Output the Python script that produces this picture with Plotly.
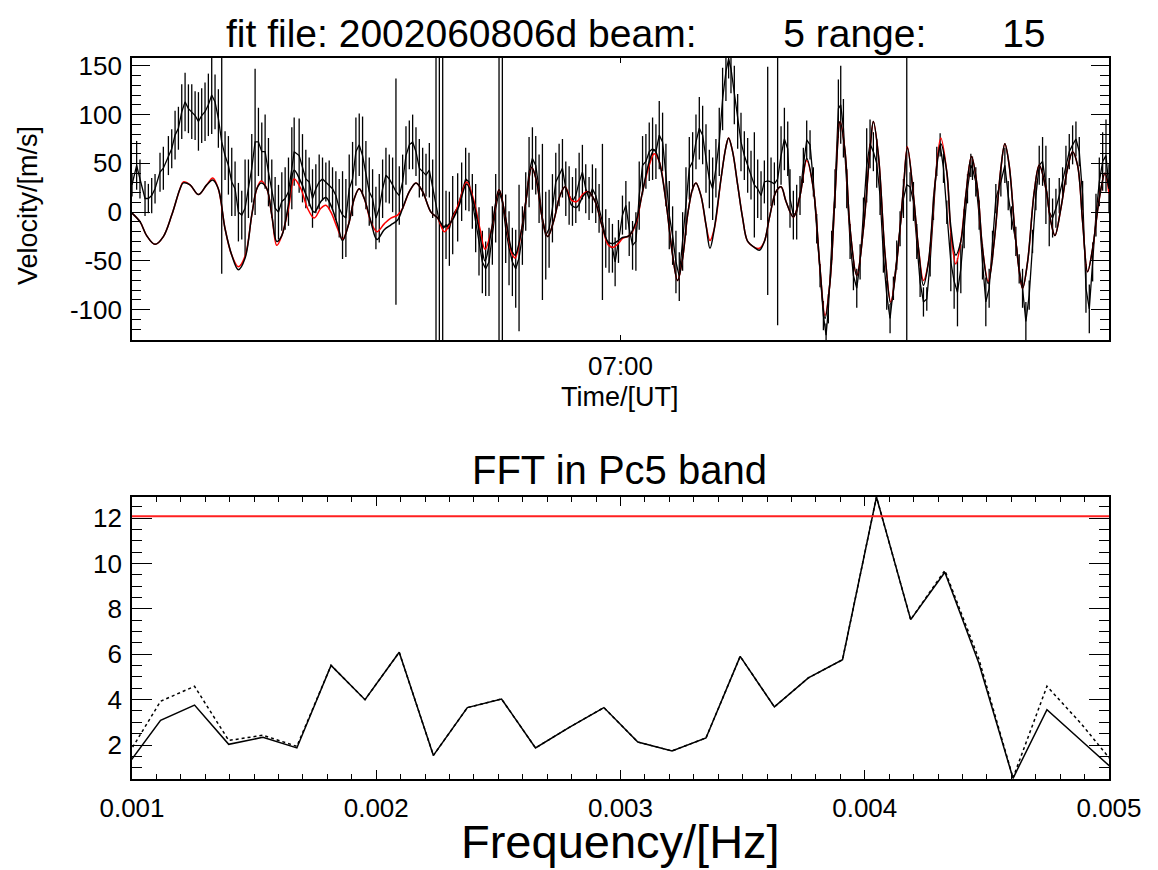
import plotly.graph_objects as go
import pandas as pd

# ---------------- top panel: LOS velocity (minutes after 06:00 UT) ----------------
t_obs = [
    0.0, 0.57, 0.98, 1.6, 2.01, 2.42, 2.83, 3.44, 3.85, 4.47, 4.88, 5.29, 5.7, 6.11, 6.52, 6.93,
    7.34, 7.75, 8.16, 8.56, 8.97, 9.38, 9.79, 10.2, 10.61, 11.02, 11.43, 11.84, 12.25, 12.66, 13.07,
    13.48, 13.89, 14.3, 14.71, 15.12, 15.53, 15.94, 16.35, 16.76, 17.17, 17.58, 17.99, 18.4, 18.81,
    19.22, 19.63,
    19.92, 20.53, 20.94, 21.35, 21.76, 22.17, 22.58, 22.99, 23.4, 23.81, 24.22, 24.63, 25.04, 25.45,
    25.86, 26.27, 26.68, 27.09, 27.5, 27.91, 28.32, 28.73, 29.14, 29.55, 29.96, 30.37, 30.78, 31.19,
    31.6, 32.01, 32.42, 32.83, 33.24, 33.65, 34.06, 34.47, 34.88, 35.29, 35.7, 36.11, 36.52, 36.93,
    37.34, 37.75, 38.16, 38.57, 38.98, 39.39, 40.0,
    40.49, 40.98, 41.39, 41.8, 42.21, 42.62, 43.03, 43.44, 43.85, 44.26, 44.67, 45.08, 45.49, 45.9,
    46.31, 46.72, 47.13, 47.54, 47.95, 48.36, 48.77, 49.18, 49.59, 50.0, 50.41, 50.82, 51.23, 51.64,
    52.05, 52.46, 52.87, 53.28, 53.69, 54.1, 54.51, 54.92, 55.32, 55.73, 56.14, 56.55, 56.96, 57.37,
    57.78, 58.19, 58.6, 59.01, 59.34, 59.75, 60.24,
    60.66, 61.07, 61.48, 61.89, 62.3, 62.71, 63.12, 63.53, 63.94, 64.35, 64.76, 65.17, 65.58, 65.99,
    66.4, 66.81, 67.22, 67.63, 68.04, 68.45, 68.86, 69.27, 69.68, 70.09, 70.5, 70.91, 71.32, 71.72,
    72.13, 72.54, 72.95, 73.28, 73.57, 73.98, 74.39, 74.8, 75.21, 75.62, 76.03, 76.44, 76.85, 77.26,
    77.67, 78.08, 78.49, 78.9, 79.3, 79.72, 80.13, 80.54,
    80.82, 81.23, 81.64, 82.05, 82.46, 82.87, 83.28, 83.69, 84.1, 84.51, 84.92, 85.25, 85.53, 85.94,
    86.35, 86.76, 87.05, 87.38, 87.79, 88.2, 88.61, 89.02, 89.43, 89.84, 90.24, 90.65, 91.06, 91.47,
    91.88, 92.29, 92.7, 93.11, 93.52, 93.93, 94.34, 94.75, 95.16, 95.57, 95.98, 96.39, 96.8, 97.21,
    97.62, 98.03, 98.44, 98.85, 99.26, 99.67, 100.08,
    100.57, 100.98, 101.39, 101.8, 102.21, 102.62, 103.03, 103.23, 103.64, 104.05, 104.46, 104.87,
    105.28, 105.69, 106.1, 106.72, 107.21, 107.62, 108.03, 108.56, 108.97, 109.38, 109.79, 110.2,
    110.61, 111.02, 111.43, 111.84, 112.25, 112.66, 113.07, 113.48, 113.89, 114.3, 114.71, 115.12,
    115.53, 115.94, 116.35, 116.76, 117.17, 117.58, 117.99, 118.4, 118.81, 119.22, 119.63, 120.0,
]
vel_obs = [
    28, 48, 34, 14, 14, 17, 24, 41, 45, 58, 65, 79, 86, 103, 113, 106, 103, 99, 93, 99, 103, 110,
    120, 113, 96, 72, 58, 48, 31, 24, 0, -3, 4, 24, 45, 72, 72, 62, 62, 41, 24, 4, 0, 11, 14, 21, 45,
    62, 58, 45, 34, 31, 14, 24, 31, 34, 31, 28, 24, 17, 4, -3, -6, 24, 34, 62, 69, 58, 38, 21, 14,
    -6, 4, 24, 38, 34, 28, 21, 17, 31, 58, 69, 72, 62, 45, 41, 38, 43, 24, 7, -10, -17, -13, -17, -3, 5,
    21, 34, 31, 11, -6, -30, -51, -58, -51, -24, 4, 21, 11, -17, -37, -51, -58, -47, -24, 11, 41, 55,
    48, 24, -10, -24, -17, 4, 31, 38, 45, 24, 17, 11, 17, 31, 41, 24, 14, 24, 17, 4, -10, -27, -34,
    -37, -51, -30, -3,
    7, -17, -34, -30, 17, 48, 52, 62, 65, 62, 79, 72, 38, -3, -24, -51, -66, -30, 11, 45, 52, 72, 86,
    79, 55, 34, 24, 45, 72, 116, 144, 157, 147, 120, 93, 72, 58, 48, 38, 28, 24, 17, 31, 32, 31, 29,
    34, 58, 75, 65,
    14, -3, 0, 17, 48, 74, 69, 31, -17, -65, -106, -126, -99, -34, 24, 106, 110, 86, 24, -30, -65,
    -78, -51, 0, 48, 70, 62, 50, 17, -44, -85, -109, -78, -44, -17, 14, 28, 26, 11, -30, -72, -92,
    -89, -51, 4, 52, 69, 45, 0,
    -51, -71, -82, -58, -17, 24, 48, 45, 31, -3, -51, -92, -78, -34, 14, 31, 48, 17, -6, -30, -58,
    -78, -112, -85, -30, 17, 48, 52, 28, 0, -6, 4, 17, 31, 48, 62, 69, 75, 62, 17, -78, -99, -51, -3,
    31, 52, 58, 24,
]
err_obs = [
    12, 25, 20, 18, 15, 18, 15, 20, 22, 20, 20, 25, 22, 28, 30, 25, 28, 25, 30, 28, 30, 32, 40, 28,
    30, 135, 25, 30, 35, 28, 30, 25, 50, 30, 35, 75, 35, 30, 38, 35, 30, 32, 28, 30, 32, 35, 42,
    35, 38, 35, 30, 25, 30, 25, 28, 22, 20, 25, 22, 25, 30, 45, 40, 35, 38, 35, 32, 40, 35, 35, 30,
    32, 35, 30, 28, 25, 28, 116, 30, 28, 30, 25, 28, 25, 30, 25, 22, 28, 30, 400, 400, 400, 35, 38,
    40, 35,
    30, 32, 30, 28, 35, 35, 32, 28, 35, 30, 35, 400, 400, 35, 38, 35, 40, 75, 30, 30, 36, 32, 30, 35,
    80, 45, 40, 35, 30, 32, 30, 28, 30, 25, 28, 30, 28, 25, 22, 25, 28, 25, 80, 30, 28, 25, 25, 22, 20,
    25, 28, 25, 30, 35, 30, 28, 30, 32, 28, 35, 30, 32, 35, 30, 32, 25, 30, 35, 32, 30, 28, 32, 30,
    35, 30, 32, 30, 35, 32, 30, 20, 25, 30, 28, 30, 25, 28, 25, 54, 30, 25, 22, 117, 25, 22, 150, 30,
    32, 28,
    30, 25, 28, 20, 18, 20, 15, 15, 15, 12, 15, 12, 15, 15, 20, 30, 40, 30, 20, 18, 15, 20, 18, 15,
    38, 25, 20, 25, 20, 18, 15, 15, 12, 15, 18, 20, 400, 15, 20, 18, 15, 15, 12, 15, 12, 15, 12, 15, 12,
    30, 28, 35, 25, 20, 15, 12, 12, 15, 15, 18, 25, 20, 15, 15, 15, 18, 15, 12, 15, 15, 20, 20, 15,
    12, 15, 20, 25, 40, 35, 20, 20, 18, 15, 20, 18, 20, 18, 15, 15, 25, 25, 20, 22, 25, 30, 37, 25,
]

# smooth (band-pass filtered) series, black, and fitted model, red
t_fit = [
    0.0, 1.0, 1.8, 2.83, 3.85, 4.88, 5.9, 6.3, 7.13, 8.16, 9.18, 9.92, 10.6, 11.43, 12.25, 13.07,
    13.89, 14.71, 15.33, 15.86, 16.56, 17.17, 17.78, 18.4, 19.22,
    19.92, 20.74, 21.56, 22.38, 23.2, 23.81, 24.43, 25.25, 25.86, 26.68, 27.3, 27.91, 28.53, 29.35,
    30.08, 30.98, 31.8, 32.62, 33.24, 34.06, 34.88, 35.7, 36.72, 37.54, 38.36, 39.18, 40.1,
    41.1, 41.92, 42.74, 43.36, 44.18, 45.08, 45.82, 46.64, 47.05, 47.87, 48.48, 49.1, 49.71, 50.32,
    51.06, 51.76, 52.58, 53.19, 54.01, 54.63, 55.45, 56.06, 56.88, 57.7, 58.52, 59.14, 59.75,
    60.25, 61.07, 61.89, 62.71, 63.53, 64.14, 64.76, 65.58, 66.4, 67.01, 67.63, 68.24, 68.86, 69.27,
    69.88, 70.5, 70.99, 71.52, 72.34, 72.95, 73.28, 73.77, 74.39, 75.0, 75.62, 76.44, 77.05, 77.67,
    78.28, 79.1, 79.72, 80.33,
    81.23, 82.05, 82.87, 83.69, 84.51, 85.12, 85.74, 86.35, 86.97, 87.58, 88.2, 89.02, 89.84, 90.66,
    91.06, 91.68, 92.5, 93.2, 93.93, 94.75, 95.24, 95.98, 96.6, 97.21, 97.83, 98.65, 99.34, 100.08,
    100.57, 101.18, 101.8, 102.41, 103.11, 103.85, 104.46, 105.16, 105.9, 106.72, 107.21, 107.74,
    108.56, 109.38, 110.0, 110.82, 111.43, 112.25, 112.86, 113.36, 114.09, 114.91, 115.53, 116.14,
    116.76, 117.37, 117.99, 118.81, 119.5, 120.0,
]
fit_black = [
    -1, -10, -24, -33, -25, -3, 24, 30, 28, 18, 28, 33, 24, -17, -44, -59, -47, -3, 24, 30, 24, -3,
    -30, -24, 8,
    43, 31, 14, 0, 11, 15, 7, -13, -29, -10, 14, 24, 14, -10, -28, -18, -13, -8, 4, 21, 30, 21, 0,
    -6, -15, -10, 5,
    29, 11, -24, -50, -17, 23, -3, -39, -44, -17, 17, 46, 31, -3, -25, -10, 17, 26, 7, 5, 17, 21,
    11, -13, -31, -32, -29,
    -26, -24, -10, 21, 52, 64, 52, 11, -44, -70, -47, -3, 24, 30, 17, -13, -37, -17, 34, 67, 76, 62,
    28, -6, -30, -36, -39, -30, -6, 21, 26, 11,
    -5, 17, 55, 24, -58, -109, -71, 17, 93, 62, -17, -65, -17, 65, 93, 58, -44, -94, -51, 24, 66,
    17, -37, -75, -51, 31, 70, 41,
    -15, -44, -30, 17, 57, 24, -37, -73, -30, 45, 70, 48, -30, -78, -51, 21, 48, 24, -10, -24, 4,
    45, 62, 48, -10, -61, -37, 14, 40, 24,
]
fit_red = [
    -1, -10, -24, -33, -25, -3, 24, 31, 28, 18, 28, 35, 24, -17, -44, -56, -45, -3, 24, 32, 24, -3,
    -34, -24, 4,
    34, 24, 4, -6, 4, 7, 0, -17, -28, -10, 14, 24, 14, -10, -20, -12, -6, -3, 4, 21, 30, 21, 0,
    -6, -20, -10, 8,
    31, 14, -17, -38, -17, 23, -3, -42, -47, -17, 17, 46, 31, -3, -25, -10, 17, 26, 12, 11, 19, 21,
    11, -13, -34, -36, -32,
    -27, -24, -12, 21, 48, 60, 52, 11, -44, -70, -47, -3, 24, 30, 17, -13, -29, -17, 34, 67, 76, 62,
    28, -6, -30, -36, -37, -30, -6, 21, 26, 11,
    -5, 17, 53, 24, -58, -106, -71, 17, 93, 62, -17, -65, -17, 65, 93, 58, -44, -92, -51, 24, 67,
    17, -37, -70, -51, 31, 76, 41,
    -20, -53, -30, 17, 57, 24, -37, -71, -30, 45, 70, 48, -30, -78, -51, 21, 48, 24, -10, -24, 4,
    45, 62, 48, -10, -61, -37, 14, 40, 19,
]
vel_ticks = [-100, -50, 0, 50, 100, 150]
vel_ticklabels = ["-100", "-50", "0", "50", "100", "150"]

# ---------------- bottom panel: FFT amplitude in Pc5 band ----------------
freq_hz = [0.000977, 0.001117, 0.001256, 0.001396, 0.001536, 0.001675, 0.001815, 0.001954,
           0.002094, 0.002234, 0.002373, 0.002513, 0.002652, 0.002792, 0.002932, 0.003071,
           0.003211, 0.00335, 0.00349, 0.00363, 0.003769, 0.003909, 0.004048, 0.004188,
           0.004328, 0.004467, 0.004607, 0.004746, 0.004886, 0.005026]
fft_solid = [1.05, 3.09, 3.76, 2.03, 2.34, 1.87, 5.51, 4.0, 6.09, 1.54, 3.65, 4.03, 1.87, 2.79,
             3.65, 2.13, 1.74, 2.31, 5.91, 3.68, 4.96, 5.76, 12.94, 7.53, 9.62, 5.62, 0.53, 3.56,
             2.2, 0.84]
fft_dotted = [1.45, 3.93, 4.59, 2.2, 2.43, 1.94, 5.51, 4.0, 6.09, 1.54, 3.65, 4.03, 1.87, 2.79,
              3.65, 2.13, 1.74, 2.31, 5.91, 3.68, 4.96, 5.76, 12.94, 7.53, 9.7, 5.8, 0.55, 4.59,
              2.94, 1.1]
sig_level = 12.09

title_main = "fit file: 2002060806d beam:" + "\u00a0" * 8 + "5 range:" + "\u00a0" * 7 + "15"

base = pd.Timestamp("2002-06-08 06:00:00")


def to_time(mins):
    return [base + pd.Timedelta(minutes=m) for m in mins]


# figure sits inside the page's default 8 px body margin
OFF = 8
W, H = 1150, 862
FONT = "Liberation Sans, Arial, Helvetica, sans-serif"


def px(xp):
    return (xp - OFF) / W


def py(yp):
    return 1 - (yp - OFF) / H


xdom = [px(132), px(1109)]
top_dom = [py(340), py(58)]
bot_dom = [py(779), py(497)]

fig = go.Figure()
fig.add_trace(go.Scatter(
    x=to_time(t_obs), y=vel_obs, mode="lines",
    line=dict(color="black", width=1.3),
    error_y=dict(type="data", array=err_obs, visible=True, width=0, thickness=1.3, color="black"),
    xaxis="x", yaxis="y", showlegend=False, hoverinfo="skip"))
fig.add_trace(go.Scatter(
    x=to_time(t_fit), y=fit_red, mode="lines",
    line=dict(color="#ff0000", width=1.5, shape="spline", smoothing=1.0),
    xaxis="x", yaxis="y", showlegend=False))
fig.add_trace(go.Scatter(
    x=to_time(t_fit), y=fit_black, mode="lines",
    line=dict(color="black", width=1.5, shape="spline", smoothing=1.0),
    xaxis="x", yaxis="y", showlegend=False))

fig.add_trace(go.Scatter(
    x=freq_hz, y=fft_dotted, mode="lines",
    line=dict(color="black", width=1.5, dash="dot"),
    xaxis="x2", yaxis="y2", showlegend=False))
fig.add_trace(go.Scatter(
    x=freq_hz, y=fft_solid, mode="lines",
    line=dict(color="black", width=1.5),
    xaxis="x2", yaxis="y2", showlegend=False))

fig.add_shape(type="line", xref="x2 domain", x0=0, x1=1, yref="y2", y0=sig_level, y1=sig_level,
              line=dict(color="#ff2020", width=1.8))

TICKSIZE = 26
axis_common = dict(showline=True, linecolor="black", linewidth=1.6, mirror="ticks",
                   showgrid=False, zeroline=False, ticks="inside", tickcolor="black",
                   tickwidth=1.3, automargin=False,
                   tickfont=dict(family=FONT, size=TICKSIZE, color="black"))

fig.update_layout(
    width=W, height=H, margin=dict(l=0, r=0, t=0, b=0, pad=0, autoexpand=False),
    paper_bgcolor="white", plot_bgcolor="white",
    font=dict(family=FONT, color="black"),
    xaxis=dict(domain=xdom, anchor="y", type="date",
               range=[base, base + pd.Timedelta(minutes=120)],
               tickmode="array", tickvals=[base + pd.Timedelta(minutes=60)], ticktext=["07:00"],
               ticklen=5, ticklabelstandoff=2, **axis_common),
    yaxis=dict(domain=top_dom, anchor="x", range=[-131, 158],
               tickmode="array", tickvals=vel_ticks, ticktext=vel_ticklabels, ticklen=18,
               minor=dict(ticks="inside", dtick=10, tick0=0, ticklen=9, tickcolor="black", tickwidth=1.3),
               ticklabelstandoff=3, **axis_common),
    xaxis2=dict(domain=xdom, anchor="y2", range=[0.001, 0.005],
                tickmode="linear", tick0=0.001, dtick=0.001, tickformat=".3f", ticklen=9,
                minor=dict(ticks="inside", dtick=0.0001, tick0=0.001, ticklen=5, tickcolor="black", tickwidth=1.3),
                ticklabelstandoff=5, **axis_common),
    yaxis2=dict(domain=bot_dom, anchor="x2", range=[0.5, 12.94],
                tickmode="linear", tick0=0, dtick=2, ticklen=20,
                minor=dict(ticks="inside", dtick=0.5, tick0=0, ticklen=10, tickcolor="black", tickwidth=1.3),
                ticklabelstandoff=3, **axis_common),
)

ann = [
    dict(text=title_main, x=px(636), y=py(33), size=39, anchor="middle"),
    dict(text="Time/[UT]", x=px(620), y=py(397), size=27, anchor="middle"),
    dict(text="FFT in Pc5 band", x=px(619), y=py(470), size=40, anchor="middle"),
    dict(text="Frequency/[Hz]", x=px(620), y=py(870), size=47, anchor="bottom"),
]
for a in ann:
    fig.add_annotation(text=a["text"], x=a["x"], y=a["y"], xref="paper", yref="paper",
                       xanchor="center", yanchor=a["anchor"], showarrow=False,
                       font=dict(family=FONT, size=a["size"], color="black"))
fig.add_annotation(text="Velocity/[m/s]", x=px(28), y=py(206), xref="paper", yref="paper",
                   xanchor="center", yanchor="middle", showarrow=False, textangle=-90,
                   font=dict(family=FONT, size=27, color="black"))

fig.write_html("out.html")
